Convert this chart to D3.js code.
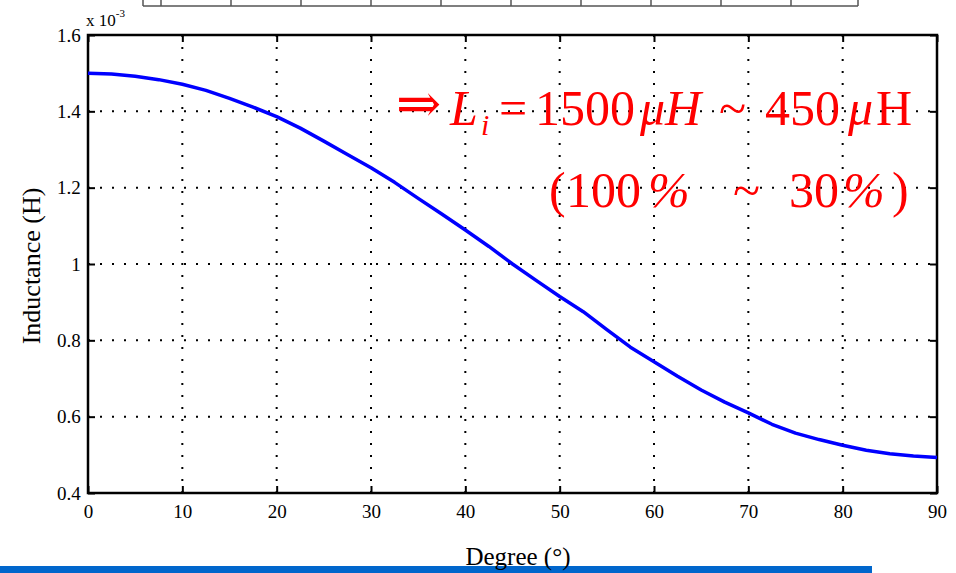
<!DOCTYPE html>
<html>
<head>
<meta charset="utf-8">
<script src="https://cdn.jsdelivr.net/npm/d3@7"></script>
<style>
  html, body { margin: 0; padding: 0; background: #fff; }
  svg { display: block; }
  text { font-family: "Liberation Serif", "Times New Roman", serif; }
</style>
</head>
<body>
<svg id="chart" width="956" height="573"></svg>
<script>
// Inductance versus rotor angle
const degrees = [0, 2.5, 5, 7.5, 10, 12.5, 15, 17.5, 20, 22.5, 25, 27.5, 30, 32.5, 35, 37.5,
  40, 42.5, 45, 47.5, 50, 52.5, 55, 57.5, 60, 62.5, 65, 67.5, 70, 72.5, 75, 77.5, 80, 82.5,
  85, 87.5, 90];
const inductanceMilliH = [1.500, 1.498, 1.492, 1.483, 1.471, 1.455, 1.434, 1.411, 1.386, 1.356,
  1.322, 1.287, 1.252, 1.214, 1.172, 1.131, 1.089, 1.046, 1.000, 0.957, 0.915, 0.875, 0.828,
  0.782, 0.744, 0.706, 0.670, 0.638, 0.610, 0.580, 0.557, 0.540, 0.525, 0.512, 0.503, 0.497,
  0.493];
const xTicks = [0, 10, 20, 30, 40, 50, 60, 70, 80, 90];
const yTicks = [0.4, 0.6, 0.8, 1, 1.2, 1.4, 1.6];
const xTitle = "Degree  (\u00B0)";
const yTitle = "Inductance (H)";

const svg = d3.select("#chart");
const plotL = 88, plotR = 937, plotT = 35, plotB = 493;

const x = d3.scaleLinear().domain([0, 90]).range([plotL, plotR]);
const y = d3.scaleLinear().domain([0.4, 1.6]).range([plotB, plotT]);

// Fragment of the table above the figure
const tableCols = [143, 161, 231, 301, 371, 441, 511, 581, 651, 721, 791, 858];
const tbl = svg.append("g").attr("stroke", "#555").attr("stroke-width", 1.5);
tbl.append("line").attr("x1", 143).attr("x2", 858).attr("y1", 6).attr("y2", 6);
tbl.selectAll("line.col").data(tableCols).join("line").attr("class", "col")
  .attr("x1", d => d).attr("x2", d => d).attr("y1", 0).attr("y2", 6);

// Dotted grid
const grid = svg.append("g").attr("stroke", "#000").attr("stroke-width", 2)
  .attr("stroke-dasharray", "2,10");
grid.selectAll("line.gx").data(xTicks.slice(1, -1)).join("line").attr("class", "gx")
  .attr("x1", d => x(d)).attr("x2", d => x(d)).attr("y1", plotT).attr("y2", plotB);
grid.selectAll("line.gy").data(yTicks.slice(1, -1)).join("line").attr("class", "gy")
  .attr("x1", plotL).attr("x2", plotR).attr("y1", d => y(d)).attr("y2", d => y(d));

// Axes with inward ticks
const fmt = d => (d === 1 ? "1" : d3.format(".1f")(d));
const axB = svg.append("g").attr("transform", `translate(0,${plotB})`)
  .call(d3.axisBottom(x).tickValues(xTicks).tickSize(-7).tickPadding(12).tickFormat(d3.format("d")));
const axT = svg.append("g").attr("transform", `translate(0,${plotT})`)
  .call(d3.axisTop(x).tickValues(xTicks).tickSize(-7).tickFormat(""));
const axL = svg.append("g").attr("transform", `translate(${plotL},0)`)
  .call(d3.axisLeft(y).tickValues(yTicks).tickSize(-7).tickPadding(10).tickFormat(fmt));
const axR = svg.append("g").attr("transform", `translate(${plotR},0)`)
  .call(d3.axisRight(y).tickValues(yTicks).tickSize(-7).tickFormat(""));
[axB, axT, axL, axR].forEach(a => {
  a.select(".domain").remove();
  a.selectAll(".tick line").attr("stroke", "#000").attr("stroke-width", 2);
  a.selectAll(".tick text").attr("fill", "#000").attr("font-size", 19)
    .attr("font-family", "Liberation Serif, serif");
});
axL.selectAll(".tick text").attr("dx", "0.15em");

// Plot frame
svg.append("rect").attr("x", plotL).attr("y", plotT)
  .attr("width", plotR - plotL).attr("height", plotB - plotT)
  .attr("fill", "none").attr("stroke", "#000").attr("stroke-width", 2.5);

// Curve
const line = d3.line().x((d, i) => x(degrees[i])).y(d => y(d));
svg.append("path").datum(inductanceMilliH).attr("d", line)
  .attr("fill", "none").attr("stroke", "#0000ff").attr("stroke-width", 3.5)
  .attr("stroke-linejoin", "round");

// Exponent marker
const ex = svg.append("text").attr("x", 86).attr("y", 26).attr("font-size", 17).attr("fill", "#000");
ex.append("tspan").text("x 10");
ex.append("tspan").attr("font-size", 11).attr("dy", -9).text("-3");

// Axis titles
svg.append("rect").attr("x", 0).attr("y", 566).attr("width", 872).attr("height", 7)
  .attr("fill", "#0066cc");
svg.append("text").attr("x", 518).attr("y", 565).attr("text-anchor", "middle")
  .attr("font-size", 25).attr("fill", "#000").text(xTitle);
svg.append("text").attr("transform", "translate(40,266) rotate(-90)")
  .attr("text-anchor", "middle").attr("font-size", 26).attr("fill", "#000").text(yTitle);

// Annotation
const red = "#ff0000";
const a1 = svg.append("text").attr("y", 125).attr("font-size", 50).attr("fill", red);
a1.append("tspan").attr("x", 396).attr("dy", -3).attr("font-family", "DejaVu Serif, serif").attr("font-size", 54).text("\u21D2");
a1.append("tspan").attr("x", 450).attr("dy", 3).attr("font-style", "italic").text("L");
a1.append("tspan").attr("x", 481).attr("dy", 10).attr("font-style", "italic").attr("font-size", 30).text("i");
a1.append("tspan").attr("x", 499).attr("dy", -10).text("=");
a1.append("tspan").attr("x", 535).text("1500");
a1.append("tspan").attr("x", 640).attr("font-style", "italic").text("\u03BCH");
a1.append("tspan").attr("x", 719).text("~");
a1.append("tspan").attr("x", 765).text("450");
a1.append("tspan").attr("x", 848).attr("font-style", "italic").text("\u03BC");
a1.append("tspan").attr("x", 876).text("H");

const a2 = svg.append("text").attr("y", 207).attr("font-size", 50).attr("fill", red);
a2.append("tspan").attr("x", 549).text("(");
a2.append("tspan").attr("x", 566).text("100");
a2.append("tspan").attr("x", 648).attr("font-style", "italic").text("%");
a2.append("tspan").attr("x", 733).text("~");
a2.append("tspan").attr("x", 789).text("30");
a2.append("tspan").attr("x", 843).attr("font-style", "italic").text("%");
a2.append("tspan").attr("x", 892).text(")");
</script>
</body>
</html>
